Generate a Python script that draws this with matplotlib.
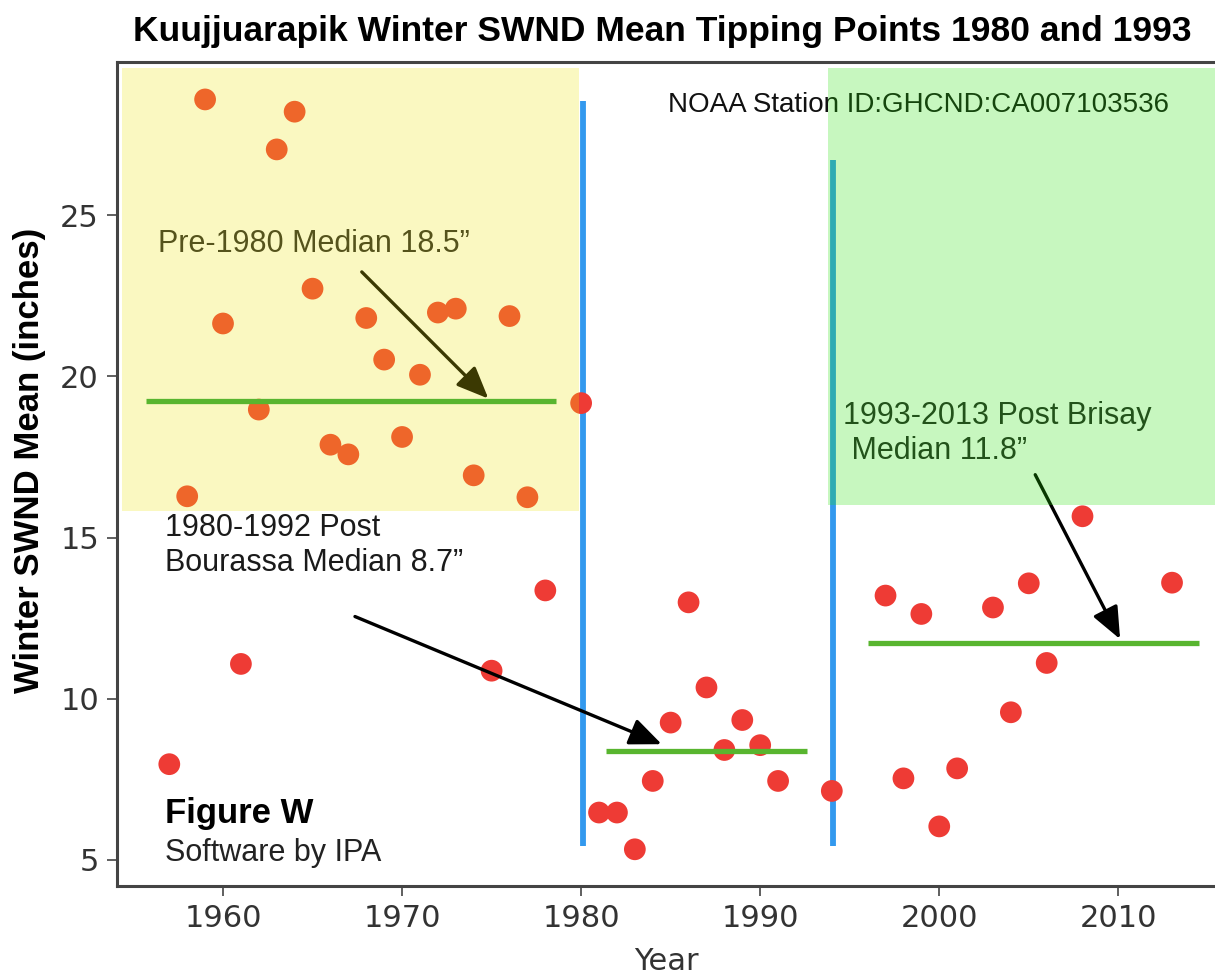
import matplotlib
matplotlib.use('Agg')
import matplotlib.pyplot as plt
from matplotlib.patches import Rectangle

# winter SWND mean by year (inches)
years = [1957, 1958, 1959, 1960, 1961, 1962, 1963, 1964, 1965, 1966, 1967, 1968,
         1969, 1970, 1971, 1972, 1973, 1974, 1975, 1976, 1977, 1978, 1980,
         1981, 1982, 1983, 1984, 1985, 1986, 1987, 1988, 1989, 1990, 1991, 1994,
         1997, 1998, 1999, 2000, 2001, 2003, 2004, 2005, 2006, 2008, 2013]
swnd = [7.97, 16.28, 28.59, 21.64, 11.08, 18.97, 27.04, 28.21, 22.72, 17.88, 17.58, 21.81,
        20.52, 18.12, 20.05, 21.98, 22.10, 16.93, 10.87, 21.87, 16.25, 13.36, 19.17,
        6.47, 6.47, 5.33, 7.45, 9.26, 12.99, 10.35, 8.41, 9.34, 8.56, 7.45, 7.14,
        13.20, 7.53, 12.63, 6.04, 7.84, 12.83, 9.58, 13.58, 11.11, 15.66, 13.60]

# median lines: (value, start year, end year)
medians = [(19.25, 1955.7, 1978.6), (8.39, 1981.4, 1992.6), (11.72, 1996.0, 2014.5)]
# tipping point markers: (year, bottom, top)
tips = [(1980.1, 5.43, 28.55), (1994.05, 5.43, 26.7)]

xticks = [1960, 1970, 1980, 1990, 2000, 2010]
yticks = [5, 10, 15, 20, 25]

fig = plt.figure(figsize=(12.15, 9.77), dpi=100)
ax = fig.add_axes([0.0963, 0.0931, 0.9037, 0.8434])
ax.set_xlim(1954.08, 2015.4)
ax.set_ylim(4.19, 29.75)

ax.scatter(years, swnd, s=245, color='#ee3b35', edgecolors='none', zorder=3)

for x, y0, y1 in tips:
    ax.vlines(x, y0, y1, color='#3399ee', lw=4.2, zorder=2)
for y, x0, x1 in medians:
    ax.hlines(y, x0, x1, color='#58b52f', lw=3.8, zorder=12)

arrow = dict(arrowstyle='-|>,head_length=1.3,head_width=0.55', color='black',
             lw=2.4, mutation_scale=15, shrinkA=0, shrinkB=0)
ax.annotate('', xy=(1974.82, 19.31), xytext=(1967.75, 23.24), arrowprops=arrow, zorder=4)
ax.annotate('', xy=(1984.5, 8.59), xytext=(1967.37, 12.55), arrowprops=arrow, zorder=4)
ax.annotate('', xy=(2010.1, 11.85), xytext=(2005.36, 16.95), arrowprops=arrow, zorder=4)

sans = ['Liberation Sans', 'DejaVu Sans']
ax.text(1956.35, 23.86, 'Pre-1980 Median 18.5\u201d', fontsize=22, family=sans, va='baseline', color='#222222')
ax.text(1956.76, 15.06, '1980-1992 Post', fontsize=22, family=sans, va='baseline', color='#1a1a1a')
ax.text(1956.76, 13.95, 'Bourassa Median 8.7\u201d', fontsize=22, family=sans, va='baseline', color='#1a1a1a')
ax.text(1994.65, 18.53, '1993-2013 Post Brisay', fontsize=22, family=sans, va='baseline', color='#222222')
ax.text(1994.65, 17.44, ' Median 11.8\u201d', fontsize=22, family=sans, va='baseline', color='#222222')
ax.text(1984.86, 28.2, 'NOAA Station ID:GHCND:CA007103536', fontsize=20, family=sans, va='baseline', color='#111111')
ax.text(1956.76, 6.16, 'Figure W', fontsize=25, family=sans, weight='bold', va='baseline')
ax.text(1956.76, 4.98, 'Software by IPA', fontsize=22, family=sans, va='baseline', color='#222222')

# shaded regimes drawn translucent over everything else
ax.add_patch(Rectangle((1954.34, 15.81), 1979.9 - 1954.34, 29.57 - 15.81,
                       facecolor='#efe70b', alpha=0.25, edgecolor='none', zorder=10))
ax.add_patch(Rectangle((1993.8, 16.02), 2016 - 1993.8, 29.57 - 16.02,
                       facecolor='#23e303', alpha=0.25, edgecolor='none', zorder=10))

ax.set_xticks(xticks)
ax.set_yticks(yticks)
ax.tick_params(labelsize=22, labelcolor='#333333', color='#444444', length=7, width=1.2, pad=6)
for side in ['left', 'top', 'bottom']:
    ax.spines[side].set_color('#444444')
    ax.spines[side].set_linewidth(2.2)
ax.spines['right'].set_visible(False)
ax.set_xlabel('Year', fontsize=22, color='#333333', labelpad=10)

fig.text(0.545, 0.958, 'Kuujjuarapik Winter SWND Mean Tipping Points 1980 and 1993',
         fontsize=25.5, family=sans, weight='bold', ha='center', va='baseline')
fig.text(30 / 1215, 1 - 460 / 977, 'Winter SWND Mean (inches)', fontsize=25, family=sans,
         weight='bold', rotation=90, ha='center', va='center')

fig.savefig('out.png', dpi=100)
